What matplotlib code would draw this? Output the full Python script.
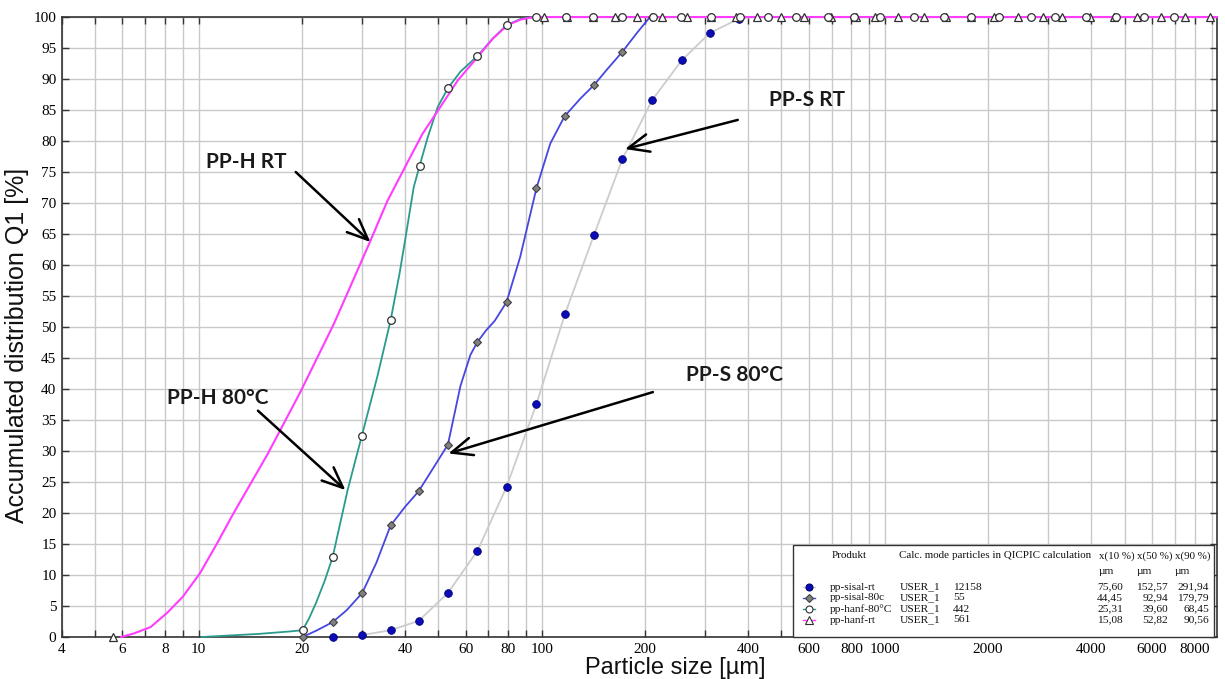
import matplotlib
matplotlib.use("Agg")
import matplotlib.pyplot as plt
from matplotlib.ticker import FixedLocator, FixedFormatter
from matplotlib.patches import Rectangle

# ---------------- data ----------------
# pp-hanf-rt (magenta line, triangles)
hanf_rt_line_x = [5.95, 6.5, 7.25, 8.1, 9.0, 10.1, 11.3, 12.6, 15.9, 19.8, 24.8, 31.3, 35.5, 40.6, 45.0,
                  50.0, 57.0, 65.0, 72.0, 79.6, 87.0, 95.0, 9300]
hanf_rt_line_y = [0.0, 0.6, 1.6, 3.9, 6.5, 10.3, 15.0, 19.8, 29.5, 39.5, 50.5, 63.2, 70.3, 76.5, 81.2,
                  85.0, 89.8, 93.5, 96.5, 98.7, 99.6, 100.0, 100.0]
hanf_rt_mark_x = [5.65, 101.3, 118.3, 141, 164, 190, 225, 265, 311, 368, 424, 500, 580, 698, 823, 940,
                  1091, 1298, 1508, 1780, 2085, 2452, 2884, 3295, 3977, 4666, 5440, 6380, 7490, 8900]
hanf_rt_mark_y = [0.0] + [100.0] * 29

# pp-hanf-80°C (teal line, open circles)
hanf_80_line_x = [10.2, 15.0, 18.5, 20.1, 21.0, 22.0, 23.3, 24.6, 27.2, 29.9, 33.2, 36.3, 38.5, 40.0,
                  42.4, 44.1, 46.5, 49.8, 53.3, 58.0, 65.0, 72.0, 79.0, 87.0, 96.0, 9300]
hanf_80_line_y = [0.0, 0.5, 0.9, 1.1, 3.0, 5.5, 9.0, 12.9, 23.7, 32.4, 42.0, 51.1, 58.5, 64.0,
                  72.6, 76.0, 80.5, 85.5, 88.5, 91.2, 93.7, 96.5, 98.7, 99.7, 100.0, 100.0]
hanf_80_mark_x = [20.1, 24.6, 29.9, 36.3, 44.1, 53.3, 65.0, 79.0, 96.0, 118, 141, 172, 211, 254, 311, 378, 456,
                  551, 682, 812, 967, 1219, 1487, 1780, 2152, 2670, 3143, 3862, 4736, 5708, 6990]
hanf_80_mark_y = [1.1, 12.9, 32.4, 51.1, 76.0, 88.5, 93.7, 98.7] + [100.0] * 23

# pp-sisal-80c (blue line, grey diamonds)
sisal_80_line_x = [20.1, 22.0, 24.6, 27.0, 30.0, 33.0, 36.3, 40.0, 43.8, 48.0, 53.3, 58.0, 62.0, 65.0,
                   69.0, 73.0, 79.0, 86.6, 96.6, 106, 116.7, 130, 142, 156, 172, 190, 207, 9300]
sisal_80_line_y = [0.0, 1.0, 2.4, 4.3, 7.1, 12.0, 18.0, 21.0, 23.5, 27.0, 31.0, 40.5, 45.5, 47.6,
                   49.5, 51.0, 54.0, 61.3, 72.4, 79.6, 84.0, 86.9, 89.0, 91.7, 94.4, 97.5, 100.0, 100.0]
sisal_80_mark_x = [20.1, 24.6, 30.0, 36.3, 43.8, 53.3, 65.0, 79.0, 96.6, 116.7, 142, 172, 210]
sisal_80_mark_y = [0.0, 2.4, 7.1, 18.0, 23.5, 31.0, 47.6, 54.0, 72.4, 84.0, 89.0, 94.4, 100.0]

# pp-sisal-rt (light grey line, blue dots)
sisal_rt_line_x = [29.9, 36.3, 43.8, 53.3, 65.0, 79.0, 96.6, 117, 142, 172, 210, 256, 309, 375, 420, 9300]
sisal_rt_line_y = [0.3, 1.1, 2.6, 7.1, 13.9, 24.2, 37.6, 52.1, 64.8, 77.1, 86.6, 93.0, 97.4, 99.7, 100.0, 100.0]
sisal_rt_mark_x = [24.6, 29.9, 36.3, 43.8, 53.3, 65.0, 79.0, 96.6, 117, 142, 172, 210, 256, 309, 375]
sisal_rt_mark_y = [0.0, 0.3, 1.1, 2.6, 7.1, 13.9, 24.2, 37.6, 52.1, 64.8, 77.1, 86.6, 93.0, 97.4, 99.7]

# axis ticks
x_labeled = [4, 6, 8, 10, 20, 40, 60, 80, 100, 200, 400, 600, 800, 1000, 2000, 4000, 6000, 8000]
y_ticks = list(range(0, 101, 5))

# legend table
legend_header = ["Produkt", "Calc. mode", "particles in QICPIC calculation", "x(10 %)", "x(50 %)", "x(90 %)"]
legend_units = ["µm", "µm", "µm"]
legend_names = ["pp-sisal-rt", "pp-sisal-80c", "pp-hanf-80°C", "pp-hanf-rt"]
legend_modes = ["USER_1", "USER_1", "USER_1", "USER_1"]
legend_counts = ["12158", "55", "442", "561"]
legend_x10 = ["75,60", "44,45", "25,31", "15,08"]
legend_x50 = ["152,57", "92,94", "39,60", "52,82"]
legend_x90 = ["291,94", "179,79", "68,45", "90,56"]

# annotations: (text, text pos, arrow start, arrow end) in data coords
annotations = [
    ("PP-H RT", (10.5, 76.6), (19.2, 75.0), (31.7, 63.7)),
    ("PP-H 80°C", (8.1, 38.5), (14.9, 36.5), (26.8, 23.7)),
    ("PP-S RT", (459, 86.6), (373, 83.4), (175, 78.7)),
    ("PP-S 80°C", (263, 42.3), (211, 39.5), (53.5, 29.6)),
]

# ---------------- figure ----------------
W, H = 1225, 679
L, R, T, B = 62, 1217, 17, 637
fig = plt.figure(figsize=(W / 100, H / 100), dpi=100)
ax = fig.add_axes([L / W, 1 - B / H, (R - L) / W, (B - T) / H])
ax.set_xscale("log")
ax.set_xlim(4, 9300)
ax.set_ylim(0, 100)

MAGENTA = "#ff3cff"
TEAL = "#2a9a8c"
BLUE = "#4646e0"
LGRAY = "#cccccc"
DOT = "#0b0bb8"

# grid / ticks
all_x = [m * 10 ** e for e in range(0, 4) for m in range(1, 10) if 4 <= m * 10 ** e <= 9300]
ax.xaxis.set_major_locator(FixedLocator(all_x))
ax.xaxis.set_minor_locator(FixedLocator([]))
ax.xaxis.set_major_formatter(FixedFormatter([(str(v) if v in x_labeled else "") for v in all_x]))
ax.set_yticks(y_ticks)
ax.set_yticklabels([str(v) for v in y_ticks])
ax.grid(True, color="#c9c9c9", lw=1.0, zorder=0)
ax.set_axisbelow(True)
ax.tick_params(which="both", direction="in", length=5, width=1, color="#333333",
               top=True, right=True, labelsize=11)
ax.tick_params(axis="x", pad=4)
ax.tick_params(axis="y", pad=4)
for lab in ax.get_xticklabels() + ax.get_yticklabels():
    lab.set_fontfamily("Liberation Serif")
for s in ax.spines.values():
    s.set_color("#333333")
    s.set_linewidth(1.2)

# lines
ax.plot(sisal_rt_line_x, sisal_rt_line_y, color=LGRAY, lw=1.3, zorder=2, clip_on=False)
ax.plot(sisal_80_line_x, sisal_80_line_y, color=BLUE, lw=1.3, zorder=3, clip_on=False)
ax.plot(hanf_80_line_x, hanf_80_line_y, color=TEAL, lw=1.3, zorder=4, clip_on=False)
ax.plot(hanf_rt_line_x, hanf_rt_line_y, color=MAGENTA, lw=1.5, zorder=5, clip_on=False)

# markers
ax.plot(sisal_rt_mark_x, sisal_rt_mark_y, ls="none", marker="o", ms=5.5, mfc=DOT, mec="#000070",
        mew=0.6, zorder=6, clip_on=False)
ax.plot(sisal_80_mark_x, sisal_80_mark_y, ls="none", marker="D", ms=4.5, mfc="#808080", mec="#404040",
        mew=0.8, zorder=7, clip_on=False)
ax.plot(hanf_rt_mark_x, hanf_rt_mark_y, ls="none", marker="^", ms=6, mfc="white", mec="#303030",
        mew=0.9, zorder=8, clip_on=False)
ax.plot(hanf_80_mark_x, hanf_80_mark_y, ls="none", marker="o", ms=5.5, mfc="white", mec="#303030",
        mew=0.9, zorder=9, clip_on=False)

# annotations
for txt, tp, a0, a1 in annotations:
    ax.text(tp[0], tp[1], txt, fontsize=15, fontweight="bold", family=["Lato", "DejaVu Sans"],
            color="#1a1a1a", ha="left", va="center", zorder=12)
    ax.annotate("", xy=a1, xytext=a0,
                arrowprops=dict(arrowstyle="->,head_length=0.75,head_width=0.32", lw=1.8,
                                color="black", mutation_scale=20, shrinkA=0, shrinkB=0),
                zorder=12)

# axis labels
fig.text(675 / W, 1 - 668 / H, "Particle size [µm]", fontsize=17, family="Liberation Sans",
         ha="center", va="center", color="#111111")
fig.text(17 / W, 1 - 345 / H, "Accumulated distribution Q1 [%]", fontsize=18, family="Liberation Sans",
         ha="center", va="center", rotation=90, color="#111111")

# legend table
def P(px, py):
    return ((px - L) / (R - L), (B - py) / (B - T))

x0, y0 = P(793, B)
x1, y1 = P(1214, 545)
ax.add_patch(Rectangle((x0, y0), x1 - x0, y1 - y0, transform=ax.transAxes, facecolor="white",
                       edgecolor="#333333", lw=1.0, zorder=20, clip_on=False))
fs = 8.2
tkw = dict(transform=ax.transAxes, fontsize=fs, family="Liberation Serif", va="center",
           color="#111111", zorder=21)
hkw = dict(tkw)
hkw["fontsize"] = 7.9
hx = [832, 899, 952, 1099, 1137, 1175]
for hxx, h in zip(hx, legend_header):
    ax.text(*P(hxx, 556), h, ha="left", **hkw)
for hxx, u in zip(hx[3:], legend_units):
    ax.text(*P(hxx, 571), u, ha="left", **tkw)
row_y = [587, 598, 609, 620]
leg_styles = [
    dict(color=LGRAY, marker="o", mfc=DOT, mec="#000070", ms=5),
    dict(color=BLUE, marker="D", mfc="#808080", mec="#404040", ms=4),
    dict(color=TEAL, marker="o", mfc="white", mec="#303030", ms=5),
    dict(color=MAGENTA, marker="^", mfc="white", mec="#303030", ms=5.5),
]
for i, ry in enumerate(row_y):
    xa, ya = P(803, ry)
    xb, _ = P(815, ry)
    ax.plot([xa, xb], [ya, ya], transform=ax.transAxes, lw=1.0, zorder=21, clip_on=False,
            color=leg_styles[i]["color"])
    st = dict(leg_styles[i])
    st.pop("color")
    ax.plot([(xa + xb) / 2], [ya], transform=ax.transAxes, ls="none", zorder=22, clip_on=False,
            mew=0.8, **st)
    ax.text(*P(830, ry), legend_names[i], ha="left", **tkw)
    ax.text(*P(900, ry), legend_modes[i], ha="left", **tkw)
    ax.text(*P(953, ry), legend_counts[i], ha="left", **tkw)
    ax.text(*P(1123, ry), legend_x10[i], ha="right", **tkw)
    ax.text(*P(1168, ry), legend_x50[i], ha="right", **tkw)
    ax.text(*P(1209, ry), legend_x90[i], ha="right", **tkw)

fig.savefig("out.png", dpi=100)
